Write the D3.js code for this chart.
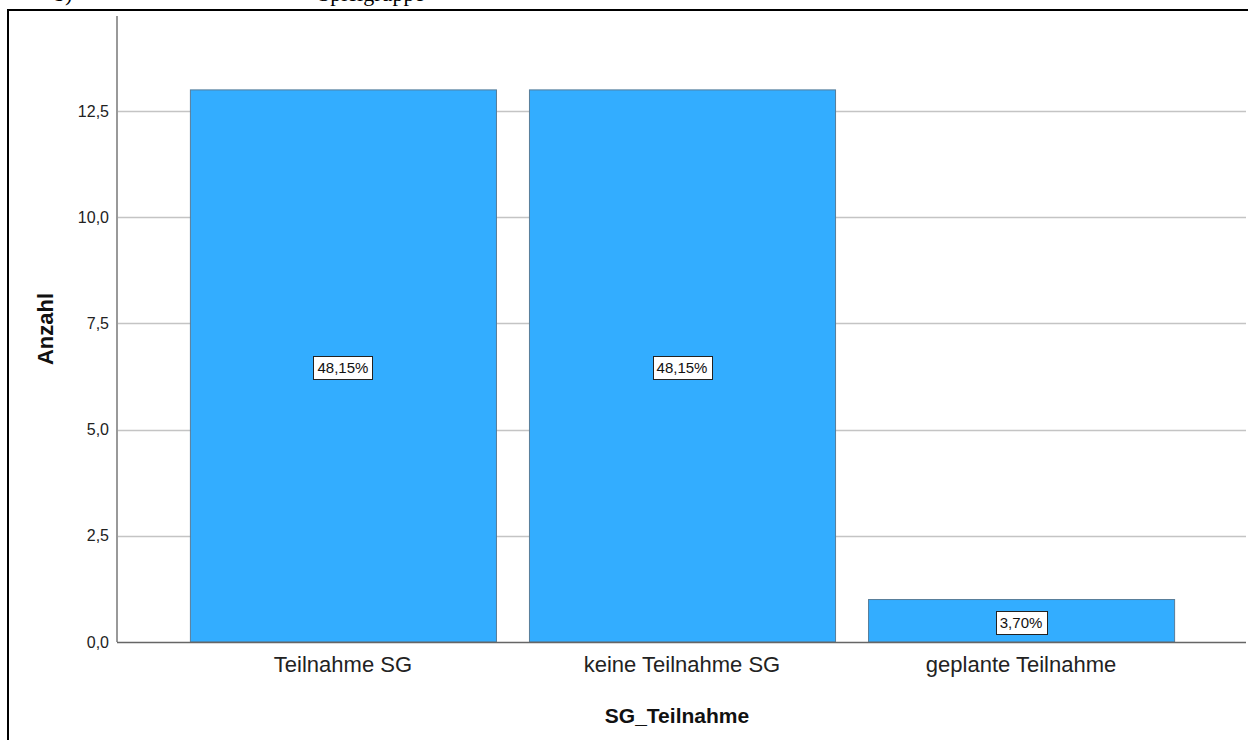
<!DOCTYPE html>
<html>
<head>
<meta charset="utf-8">
<script src="https://cdn.jsdelivr.net/npm/d3@7"></script>
<style>
  html, body { margin: 0; padding: 0; background: #fff; }
  svg { display: block; }
  text { font-family: "Liberation Sans", Arial, sans-serif; }
</style>
</head>
<body>
<svg id="chart" width="1248" height="740"></svg>
<script>
const categories = ["Teilnahme SG", "keine Teilnahme SG", "geplante Teilnahme"];
const counts = [13, 13, 1];
const percentLabels = ["48,15%", "48,15%", "3,70%"];
const yTicks = [0, 2.5, 5, 7.5, 10, 12.5];
const yTickLabels = ["0,0", "2,5", "5,0", "7,5", "10,0", "12,5"];
const xTitle = "SG_Teilnahme";
const yTitle = "Anzahl";

(function () {
const svg = d3.select("#chart");

// fragment of caption text above frame (cut off in the reference)
svg.append("text").attr("x", 54).attr("y", 1)
  .style("font-family", "'Liberation Serif', 'Times New Roman', serif")
  .style("font-size", "22px").attr("fill", "#000")
  .text("b)");
svg.append("text").attr("x", 318).attr("y", 1)
  .style("font-family", "'Liberation Serif', 'Times New Roman', serif")
  .style("font-size", "22px").attr("fill", "#000")
  .text("Spielgruppe");

// frame
svg.append("line").attr("x1", 7).attr("x2", 1248).attr("y1", 10).attr("y2", 10)
  .attr("stroke", "#000").attr("stroke-width", 2);
svg.append("line").attr("x1", 8).attr("x2", 8).attr("y1", 9).attr("y2", 740)
  .attr("stroke", "#000").attr("stroke-width", 2);

const pLeft = 117, pRight = 1247, pTop = 16, pBottom = 642;

const x = d3.scaleBand().domain(categories).range([pLeft, pRight])
  .paddingInner(0.0973).paddingOuter(0.215);
const y = d3.scaleLinear().domain([0, 14.74]).range([pBottom, pTop]);

// gridlines
svg.append("g").selectAll("line").data(yTicks.filter(d => d > 0)).join("line")
  .attr("x1", pLeft).attr("x2", pRight - 1)
  .attr("y1", d => Math.round(y(d)) + 0.5).attr("y2", d => Math.round(y(d)) + 0.5)
  .attr("stroke", "#c4c4c4").attr("stroke-width", 1.5);

// y axis
const yAxis = d3.axisLeft(y).tickValues(yTicks)
  .tickFormat((d, i) => yTickLabels[i]).tickSize(0).tickPadding(8);
const gy = svg.append("g").attr("transform", `translate(${pLeft},0)`).call(yAxis);
gy.select(".domain").remove();
gy.selectAll("text").style("font-size", "16px").attr("fill", "#222")
  .style("font-family", "'Liberation Sans', Arial, sans-serif");
svg.append("line").attr("x1", pLeft).attr("x2", pLeft).attr("y1", pTop).attr("y2", pBottom)
  .attr("stroke", "#999").attr("stroke-width", 2);

// bars
svg.append("g").selectAll("rect").data(categories).join("rect")
  .attr("x", d => x(d) + 0.5)
  .attr("y", (d, i) => y(counts[i]))
  .attr("width", x.bandwidth())
  .attr("height", (d, i) => y(0) - y(counts[i]))
  .attr("fill", "#33adff")
  .attr("stroke", "#587d99")
  .attr("stroke-width", 1);

// baseline
svg.append("line").attr("x1", pLeft).attr("x2", pRight - 1)
  .attr("y1", pBottom + 0.5).attr("y2", pBottom + 0.5)
  .attr("stroke", "#666").attr("stroke-width", 1.5);

// x axis labels
const xAxis = d3.axisBottom(x).tickSize(0).tickPadding(14);
const gx = svg.append("g").attr("transform", `translate(0,${pBottom})`).call(xAxis);
gx.select(".domain").remove();
gx.selectAll("text").style("font-size", "22px").attr("fill", "#222")
  .style("font-family", "'Liberation Sans', Arial, sans-serif");

// percentage labels
const lbl = svg.append("g");
categories.forEach((c, i) => {
  const cx = x(c) + x.bandwidth() / 2;
  const cy = (y(counts[i]) + y(0)) / 2 + 2;
  const g = lbl.append("g");
  const t = g.append("text").attr("x", cx).attr("y", cy)
    .attr("text-anchor", "middle").attr("dominant-baseline", "central")
    .style("font-size", "15px").attr("fill", "#111").text(percentLabels[i]);
  const bb = t.node().getBBox();
  g.insert("rect", "text")
    .attr("x", Math.round(cx - bb.width / 2 - 4) + 0.5)
    .attr("y", Math.round(cy - 12) + 0.5)
    .attr("width", Math.round(bb.width + 8)).attr("height", 23)
    .attr("fill", "#fff").attr("stroke", "#222").attr("stroke-width", 1);
});

// titles
svg.append("text").attr("x", 677).attr("y", 723).attr("text-anchor", "middle")
  .style("font-size", "21px").style("font-weight", "bold").attr("fill", "#111")
  .text(xTitle);
svg.append("text").attr("transform", "translate(53,329) rotate(-90)")
  .attr("text-anchor", "middle")
  .style("font-size", "22px").style("font-weight", "bold").attr("fill", "#111")
  .text(yTitle);
})();
</script>
</body>
</html>
